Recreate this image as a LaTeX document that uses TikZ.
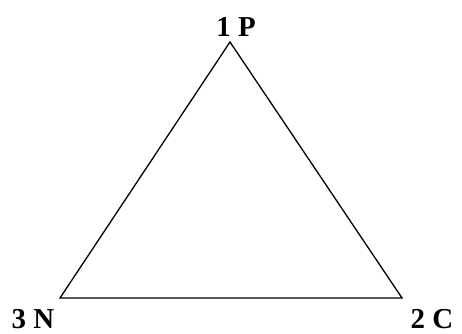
\documentclass[tikz,border=0pt]{standalone}
\usepackage{fontspec}
\setmainfont{Liberation Serif}
\usepackage{tikz}
\usetikzlibrary{positioning}

\begin{document}
\begin{tikzpicture}[
  x=1bp, y=1bp,
  vlabel/.style={anchor=base, inner sep=0pt,
                 font=\bfseries\fontsize{29}{31}\selectfont},
  edge/.style={line width=1.3bp, black}
]
  \useasboundingbox (0,0) rectangle (462,333);
  % vertices
  \coordinate (P) at (230,291);
  \coordinate (C) at (402,35);
  \coordinate (N) at (60,35);
  \node[vlabel] (lp) at (236,297) {1 P};
  \node[vlabel] (lc) at (432,5)   {2 C};
  \node[vlabel] (ln) at (33,5)    {3 N};
  \draw[edge] (P) -- (C) -- (N) -- cycle;
\end{tikzpicture}
\end{document}
